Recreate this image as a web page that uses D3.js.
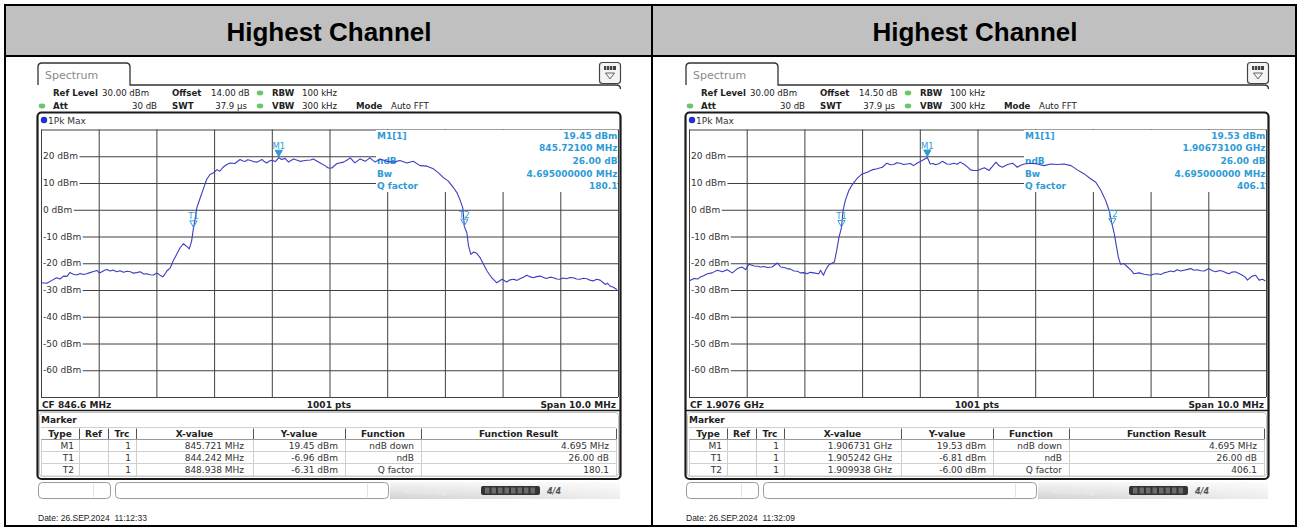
<!DOCTYPE html>
<html><head><meta charset="utf-8">
<script src="https://cdn.jsdelivr.net/npm/d3@7"></script>
<style>body{margin:0;background:#fff}svg{display:block}</style>
</head><body><div id="chart"></div>
<script>
// ---------------- data ----------------
const panelTitles = ["Highest Channel", "Highest Channel"];
const offsetLabels = ["14.00 dB", "14.50 dB"];
const cfLabels = ["CF 846.6 MHz", "CF 1.9076 GHz"];
const ptsLabel = "1001 pts";
const spanLabel = "Span 10.0 MHz";
const dateLabels = ["Date: 26.SEP.2024  11:12:33", "Date: 26.SEP.2024  11:32:09"];
const xDomainL = [841.6, 851.6];        // MHz
const xDomainR = [1902.6, 1912.6];      // MHz
const yDomain = [-70, 30];              // dBm
const yTickLevels = [20, 10, 0, -10, -20, -30, -40, -50, -60];
const yGridLevels = [30, 20, 10, 0, -10, -20, -30, -40, -50, -60, -70];

const freqL = [
 841.60,841.70,841.78,841.87,841.93,841.99,842.05,842.10,842.16,842.22,
 842.28,842.33,842.39,842.45,842.51,842.57,842.61,842.65,842.70,842.74,
 842.80,842.85,842.91,842.97,843.03,843.09,843.15,843.20,843.26,843.32,
 843.38,843.43,843.49,843.55,843.60,843.63,843.67,843.71,843.75,843.78,
 843.84,843.89,843.95,844.01,844.07,844.13,844.17,844.21,844.242,844.27,
 844.30,844.36,844.42,844.47,844.53,844.59,844.65,844.70,844.76,844.82,
 844.88,844.96,845.05,845.10,845.14,845.18,845.22,845.28,845.34,845.39,
 845.43,845.47,845.51,845.56,845.60,845.66,845.721,845.77,845.83,845.89,
 845.93,845.98,846.04,846.09,846.15,846.21,846.27,846.32,846.38,846.44,
 846.52,846.58,846.64,846.73,846.84,846.90,846.96,847.04,847.13,847.22,
 847.30,847.39,847.48,847.59,847.71,847.82,847.94,848.05,848.17,848.29,
 848.40,848.49,848.58,848.66,848.75,848.81,848.86,848.91,848.938,848.98,
 849.01,849.05,849.10,849.15,849.21,849.27,849.33,849.41,849.50,849.59,
 849.67,849.73,849.79,849.85,849.90,849.96,850.02,850.08,850.13,850.19,
 850.25,850.31,850.36,850.42,850.48,850.54,850.59,850.65,850.71,850.77,
 850.83,850.88,850.94,851.00,851.06,851.11,851.17,851.23,851.29,851.34,
 851.38,851.42,851.46,851.52,851.58
];
const levelL = [
 -27.3,-27.5,-26.5,-25.4,-25.9,-24.8,-24.9,-23.5,-24.1,-24.4,
 -23.8,-24.2,-23.9,-23.5,-23.1,-22.7,-23.6,-23.3,-22.6,-22.3,
 -22.9,-22.5,-23.2,-22.8,-23.4,-23.0,-23.2,-23.7,-23.5,-23.2,
 -24.0,-23.9,-24.3,-24.4,-23.7,-23.9,-24.6,-25.1,-24.0,-22.9,
 -21.7,-19.2,-16.7,-14.2,-12.7,-13.8,-14.6,-11.7,-6.96,-3.6,
 0.7,4.5,8.2,11.3,13.2,13.8,15.0,14.4,16.0,16.9,
 17.5,17.3,18.8,18.2,18.1,18.7,18.5,18.0,17.8,18.3,
 18.8,18.0,17.5,18.2,18.5,18.0,19.45,18.8,19.2,17.8,
 18.4,19.0,18.5,18.1,18.3,18.5,18.6,19.0,18.2,17.5,
 16.5,15.6,15.6,17.3,17.8,18.5,19.4,17.5,19.0,18.1,
 19.4,17.8,19.0,18.1,17.8,18.4,17.5,18.1,16.5,16.3,
 15.3,13.8,11.9,10.7,8.2,6.3,3.8,0.7,-6.31,-8.6,
 -13.6,-16.7,-15.8,-16.3,-17.9,-20.4,-22.9,-25.4,-27.3,-26.0,
 -27.0,-26.2,-26.0,-26.4,-25.8,-25.2,-24.5,-25.1,-25.4,-25.0,
 -24.8,-25.3,-25.7,-25.2,-25.4,-25.9,-26.0,-25.5,-25.8,-25.3,
 -25.4,-25.9,-26.0,-25.6,-25.8,-26.3,-26.6,-26.0,-26.3,-27.2,
 -27.9,-27.5,-28.5,-29.0,-29.8
];
const freqR = [
 1902.60,1902.69,1902.75,1902.80,1902.86,1902.92,1903.00,1903.09,1903.18,1903.26,
 1903.35,1903.44,1903.52,1903.58,1903.64,1903.73,1903.79,1903.84,1903.90,1903.96,
 1904.04,1904.13,1904.19,1904.25,1904.30,1904.36,1904.42,1904.48,1904.53,1904.59,
 1904.65,1904.70,1904.76,1904.85,1904.88,1904.93,1904.97,1905.02,1905.08,1905.12,
 1905.16,1905.20,1905.242,1905.27,1905.31,1905.37,1905.43,1905.51,1905.60,1905.69,
 1905.77,1905.86,1905.95,1906.03,1906.09,1906.15,1906.20,1906.26,1906.32,1906.38,
 1906.44,1906.49,1906.55,1906.64,1906.731,1906.78,1906.83,1906.87,1906.93,1906.99,
 1907.07,1907.13,1907.19,1907.25,1907.30,1907.36,1907.42,1907.48,1907.53,1907.60,
 1907.66,1907.72,1907.80,1907.86,1907.92,1907.97,1908.03,1908.12,1908.21,1908.29,
 1908.35,1908.41,1908.52,1908.64,1908.75,1908.87,1908.99,1909.10,1909.22,1909.33,
 1909.45,1909.56,1909.65,1909.74,1909.82,1909.88,1909.938,1909.97,1910.01,1910.04,
 1910.08,1910.14,1910.20,1910.26,1910.31,1910.40,1910.49,1910.60,1910.66,1910.72,
 1910.78,1910.83,1910.89,1910.95,1911.00,1911.06,1911.12,1911.18,1911.24,1911.30,
 1911.35,1911.41,1911.47,1911.53,1911.61,1911.67,1911.73,1911.79,1911.84,1911.90,
 1911.96,1912.01,1912.07,1912.13,1912.19,1912.24,1912.28,1912.32,1912.36,1912.42,
 1912.48,1912.54,1912.59
];
const levelR = [
 -26.6,-25.7,-25.9,-25.1,-24.6,-23.9,-23.6,-22.6,-23.2,-22.4,
 -23.6,-22.0,-21.4,-22.4,-20.4,-21.0,-21.1,-21.4,-21.2,-21.6,
 -21.4,-19.9,-21.4,-21.6,-22.0,-22.2,-22.9,-23.0,-23.6,-23.5,
 -23.9,-23.4,-23.6,-23.9,-22.6,-24.5,-22.4,-20.7,-19.9,-19.5,
 -15.2,-10.2,-6.81,-0.2,3.5,7.2,9.4,11.6,13.4,14.0,
 14.9,15.3,15.9,17.4,16.8,16.9,17.6,17.4,16.9,17.1,
 17.3,16.5,17.4,18.4,19.53,17.1,17.3,16.8,17.2,18.1,
 17.1,17.0,17.4,17.0,17.8,17.1,16.1,14.9,14.7,14.7,
 15.2,15.7,14.7,16.2,17.8,16.5,15.9,16.9,17.4,15.9,
 16.6,17.1,17.4,17.1,16.5,17.1,16.9,17.1,16.5,14.9,
 13.4,11.6,10.3,7.2,3.5,-0.2,-6.00,-8.9,-13.9,-17.6,
 -20.4,-20.1,-21.4,-22.6,-23.9,-23.6,-24.1,-24.5,-24.0,-23.9,
 -24.2,-23.6,-23.3,-22.9,-23.2,-22.4,-22.9,-22.6,-22.3,-22.0,
 -22.6,-22.4,-22.8,-22.9,-22.0,-22.8,-23.2,-22.7,-22.9,-23.5,
 -23.9,-23.3,-23.2,-23.8,-24.5,-25.2,-26.3,-25.5,-24.8,-24.5,
 -26.3,-26.0,-26.6
];

const markerTypes = ["M1", "T1", "T2"];
const markerTrc = ["1", "1", "1"];
const markerFreqL = [845.721, 844.242, 848.938];
const markerLevelL = [19.45, -6.96, -6.31];
const markerFreqR = [1906.731, 1905.242, 1909.938];
const markerLevelR = [19.53, -6.81, -6.00];
const markerXTextL = ["845.721 MHz", "844.242 MHz", "848.938 MHz"];
const markerYTextL = ["19.45 dBm", "-6.96 dBm", "-6.31 dBm"];
const markerXTextR = ["1.906731 GHz", "1.905242 GHz", "1.909938 GHz"];
const markerYTextR = ["19.53 dBm", "-6.81 dBm", "-6.00 dBm"];
const functionNames = ["ndB down", "ndB", "Q factor"];
const functionResultsL = ["4.695 MHz", "26.00 dB", "180.1"];
const functionResultsR = ["4.695 MHz", "26.00 dB", "406.1"];
const tableHeaders = ["Type", "Ref", "Trc", "X-value", "Y-value", "Function", "Function Result"];
const infoLabels = ["M1[1]", "", "ndB", "Bw", "Q factor"];
const infoValuesL = ["19.45 dBm", "845.72100 MHz", "26.00 dB", "4.695000000 MHz", "180.1"];
const infoValuesR = ["19.53 dBm", "1.90673100 GHz", "26.00 dB", "4.695000000 MHz", "406.1"];

// ---------------- drawing ----------------
const INST = "'DejaVu Sans', Verdana, sans-serif";
const ARIAL = "'Liberation Sans', Arial, sans-serif";
const MK = "#2f9bd6";
const TRACE = "#3d3dc2";
const GRID = "#404040";

const svg = d3.select("#chart").append("svg").attr("width", 1301).attr("height", 530);
svg.append("rect").attr("width", 1301).attr("height", 530).attr("fill", "#fff");

const defs = svg.append("defs");
const gb = defs.append("linearGradient").attr("id", "barGrad").attr("x1", 0).attr("x2", 0).attr("y1", 0).attr("y2", 1);
gb.append("stop").attr("offset", "0%").attr("stop-color", "#f6f6f6");
gb.append("stop").attr("offset", "100%").attr("stop-color", "#d2d2d2");
const gh = defs.append("linearGradient").attr("id", "fadeGrad").attr("x1", 0).attr("x2", 1).attr("y1", 0).attr("y2", 0);
gh.append("stop").attr("offset", "0%").attr("stop-color", "#fff").attr("stop-opacity", 0);
gh.append("stop").attr("offset", "100%").attr("stop-color", "#fff").attr("stop-opacity", 0.6);

// outer table
svg.append("rect").attr("x", 5).attr("y", 5).attr("width", 1291).attr("height", 51).attr("fill", "#c0c0c0");
svg.append("rect").attr("x", 5).attr("y", 5).attr("width", 1291).attr("height", 521)
  .attr("fill", "none").attr("stroke", "#000").attr("stroke-width", 2);
svg.append("line").attr("x1", 5).attr("x2", 1296).attr("y1", 56).attr("y2", 56).attr("stroke", "#000").attr("stroke-width", 2);
svg.append("line").attr("x1", 652).attr("x2", 652).attr("y1", 5).attr("y2", 526).attr("stroke", "#000").attr("stroke-width", 2);

const colCenters = [329, 975];
panelTitles.forEach((t, i) => {
  svg.append("text").attr("x", colCenters[i]).attr("y", 41).attr("text-anchor", "middle")
    .attr("font-family", ARIAL).attr("font-weight", "bold").attr("font-size", 26).attr("fill", "#000").text(t);
});

function txt(g, x, y, s, o = {}) {
  return g.append("text").attr("x", x).attr("y", y)
    .attr("font-family", o.family || INST).attr("font-size", o.size || 9)
    .attr("font-weight", o.bold ? "bold" : "normal")
    .attr("text-anchor", o.anchor || "start").attr("fill", o.fill || "#222")
    .style("white-space", "pre").text(s);
}

function drawPanel(p) {
  const g = svg.append("g").attr("transform", `translate(${p.ox},0)`);
  const x = d3.scaleLinear().domain(p.xDomain).range([41, 618]);
  const y = d3.scaleLinear().domain(yDomain).range([397, 129.5]);

  // tab
  g.append("path").attr("d", "M38,85 L38,67 Q38,63 42,63 L126,63 Q130,63 130,67 L130,85 L616,85 Q620.5,85 620.5,89")
    .attr("fill", "none").attr("stroke", "#333").attr("stroke-width", 1.3);
  txt(g, 45, 79, "Spectrum", {size: 11, fill: "#8a8a8a"});
  // icon
  g.append("rect").attr("x", 599.5).attr("y", 62.5).attr("width", 21).attr("height", 21).attr("rx", 3)
    .attr("fill", "#f4f4f4").attr("stroke", "#444").attr("stroke-width", 1.2);
  g.append("rect").attr("x", 604).attr("y", 66).attr("width", 12).attr("height", 4).attr("fill", "#444");
  [606.5, 609.5, 612.5].forEach(v => g.append("line").attr("x1", v).attr("x2", v).attr("y1", 66).attr("y2", 70).attr("stroke", "#ddd").attr("stroke-width", 0.8));
  g.append("path").attr("d", "M605.5,73 L614.5,73 L610,79 Z").attr("fill", "none").attr("stroke", "#555").attr("stroke-width", 0.9);

  // settings rows
  const S = 8.6;
  const dot = (cx, cy) => g.append("ellipse").attr("cx", cx).attr("cy", cy).attr("rx", 3.3).attr("ry", 2.4).attr("fill", "#6cc46c");
  txt(g, 53, 96, "Ref Level", {bold: true, size: S});
  txt(g, 102, 96, "30.00 dBm", {size: S});
  txt(g, 172, 96, "Offset", {bold: true, size: S});
  txt(g, 211, 96, p.offset, {size: S});
  dot(260, 93);
  txt(g, 272, 96, "RBW", {bold: true, size: S});
  txt(g, 302, 96, "100 kHz", {size: S});
  dot(42, 106);
  txt(g, 53, 109, "Att", {bold: true, size: S});
  txt(g, 157, 109, "30 dB", {anchor: "end", size: S});
  txt(g, 172, 109, "SWT", {bold: true, size: S});
  txt(g, 247, 109, "37.9 µs", {anchor: "end", size: S});
  dot(260, 106);
  txt(g, 272, 109, "VBW", {bold: true, size: S});
  txt(g, 302, 109, "300 kHz", {size: S});
  txt(g, 356, 109, "Mode", {bold: true, size: S});
  txt(g, 391, 109, "Auto FFT", {size: S});

  // window frame
  g.append("rect").attr("x", 37.5).attr("y", 112.5).attr("width", 583).attr("height", 366.5).attr("rx", 4)
    .attr("fill", "#fff").attr("stroke", "#1a1a1a").attr("stroke-width", 2.2);
  g.append("circle").attr("cx", 44).attr("cy", 120).attr("r", 3.2).attr("fill", "#1f2fd0");
  txt(g, 48, 123.5, "1Pk Max", {size: 9, fill: "#333"});

  // grid via axes
  const yAxis = d3.axisLeft(y).tickValues(yGridLevels).tickSize(-577).tickFormat("");
  const gy = g.append("g").attr("transform", "translate(41,0)").call(yAxis);
  gy.select(".domain").remove();
  gy.selectAll("line").attr("stroke", GRID).attr("stroke-width", 1);
  const xTicks = d3.range(11).map(i => p.xDomain[0] + i);
  const xAxis = d3.axisBottom(x).tickValues(xTicks).tickSize(-(397 - 129.5)).tickFormat("");
  const gx = g.append("g").attr("transform", "translate(0,397)").call(xAxis);
  gx.select(".domain").remove();
  gx.selectAll("line").attr("stroke", GRID).attr("stroke-width", 1);

  // y labels on white patches
  yTickLevels.forEach(v => {
    const bg = g.append("rect").attr("fill", "#fff");
    const t = txt(g, 43, y(v) + 3.2, `${v} dBm`, {fill: "#333"});
    const b = t.node().getBBox();
    bg.attr("x", 42).attr("y", y(v) - 2.5).attr("width", b.x + b.width - 42 + 1.5).attr("height", 5);
  });

  // info box
  g.append("rect").attr("x", 376).attr("y", 130).attr("width", 241.5).attr("height", 62).attr("fill", "#fff");
  const infoY = [138.5, 151, 164, 176.5, 189];
  infoLabels.forEach((s, i) => { if (s) txt(g, 377, infoY[i], s, {bold: true, fill: MK}); });
  p.info.forEach((s, i) => txt(g, 617.5, infoY[i], s, {bold: true, fill: MK, anchor: "end"}));

  // trace
  const clipId = "clip" + p.ox;
  defs.append("clipPath").attr("id", clipId).append("rect").attr("x", 41 + p.ox).attr("y", 129).attr("width", 577).attr("height", 268);
  const pts = p.freq.map((f, i) => [f, p.level[i]]);
  svg.append("g").attr("clip-path", `url(#${clipId})`).append("path")
    .attr("transform", `translate(${p.ox},0)`)
    .attr("d", d3.line().x(d => x(d[0])).y(d => y(d[1]))(pts))
    .attr("fill", "none").attr("stroke", TRACE).attr("stroke-width", 1.1).attr("stroke-linejoin", "round");

  // markers
  const gm = svg.append("g").attr("transform", `translate(${p.ox},0)`);
  markerTypes.forEach((m, i) => {
    const mx = x(p.mFreq[i]), my = y(p.mLevel[i]);
    gm.append("path").attr("d", `M${mx},${my - 1} L${mx - 3.6},${my - 7.5} L${mx + 3.6},${my - 7.5} Z`)
      .attr("fill", i === 0 ? MK : "none").attr("stroke", MK).attr("stroke-width", 1);
    txt(gm, mx, my - 9, m, {anchor: "middle", fill: MK, size: 8.5});
  });

  // CF row
  g.append("line").attr("x1", 37.5).attr("x2", 620.5).attr("y1", 410.5).attr("y2", 410.5).attr("stroke", "#1a1a1a").attr("stroke-width", 1.6);
  txt(g, 42, 407.5, p.cf, {bold: true});
  txt(g, 329, 407.5, ptsLabel, {bold: true, anchor: "middle"});
  txt(g, 616, 407.5, spanLabel, {bold: true, anchor: "end"});

  // marker box
  g.append("rect").attr("x", 39.5).attr("y", 412.5).attr("width", 579).attr("height", 64).attr("rx", 3)
    .attr("fill", "#fff").attr("stroke", "#c4c4c4").attr("stroke-width", 1);
  txt(g, 41, 422.5, "Marker", {bold: true});
  const seps = [41, 79, 108, 136, 253, 345, 421, 616];
  const tTop = 427.5, tHead = 439.5, rowLines = [451.5, 463.5, 476];
  g.append("line").attr("x1", 41).attr("x2", 616).attr("y1", tTop).attr("y2", tTop).attr("stroke", "#d0d0d0");
  g.append("line").attr("x1", 41).attr("x2", 616).attr("y1", tHead).attr("y2", tHead).attr("stroke", "#999");
  rowLines.forEach(v => g.append("line").attr("x1", 41).attr("x2", 616).attr("y1", v).attr("y2", v).attr("stroke", "#cfcfcf"));
  seps.forEach((s, i) => {
    if (i > 0) g.append("line").attr("x1", s + 0.5).attr("x2", s + 0.5).attr("y1", tTop + 1).attr("y2", tHead).attr("stroke", "#555");
    g.append("line").attr("x1", s + 0.5).attr("x2", s + 0.5).attr("y1", tHead).attr("y2", 476).attr("stroke", "#cfcfcf");
  });
  tableHeaders.forEach((h, i) => txt(g, (seps[i] + seps[i + 1]) / 2, 437, h, {bold: true, anchor: "middle"}));
  const rowY = [448.5, 460.5, 473];
  const pads = [5, 5, 5, 9, 7, 7, 7];
  markerTypes.forEach((m, r) => {
    const cells = [m, "", markerTrc[r], p.xText[r], p.yText[r], functionNames[r], p.results[r]];
    cells.forEach((c, i) => { if (c) txt(g, seps[i + 1] - pads[i], rowY[r], c, {anchor: "end", fill: "#333"}); });
  });

  // bottom status bar
  g.append("rect").attr("x", 38.5).attr("y", 482.5).attr("width", 72).attr("height", 16).attr("rx", 4)
    .attr("fill", "#fff").attr("stroke", "#9a9a9a");
  g.append("line").attr("x1", 93.5).attr("x2", 93.5).attr("y1", 484).attr("y2", 497).attr("stroke", "#e2e2e2");
  g.append("rect").attr("x", 115.5).attr("y", 482.5).attr("width", 273).attr("height", 16).attr("rx", 4)
    .attr("fill", "#fff").attr("stroke", "#9a9a9a");
  g.append("line").attr("x1", 367.5).attr("x2", 367.5).attr("y1", 484).attr("y2", 497).attr("stroke", "#e2e2e2");
  g.append("rect").attr("x", 390).attr("y", 482).attr("width", 230).attr("height", 17).attr("fill", "url(#barGrad)");
  g.append("rect").attr("x", 390).attr("y", 482).attr("width", 230).attr("height", 17).attr("fill", "url(#fadeGrad)");
  txt(g, 404, 494, "Measuring...", {fill: "#ececec", size: 8});
  g.append("rect").attr("x", 481).attr("y", 486).attr("width", 59).attr("height", 9).attr("rx", 2).attr("fill", "#333");
  d3.range(8).forEach(k => g.append("rect").attr("x", 485 + k * 6.5).attr("y", 487.5).attr("width", 4.5).attr("height", 6).attr("fill", "#6a6a6a"));
  txt(g, 547, 494, "4/4", {bold: true, fill: "#555", size: 8}).attr("font-style", "italic");

  // date
  txt(g, 38, 521, p.date, {family: ARIAL, size: 8.5, fill: "#222"});
}

drawPanel({ox: 0, xDomain: xDomainL, freq: freqL, level: levelL, offset: offsetLabels[0], cf: cfLabels[0],
  date: dateLabels[0], mFreq: markerFreqL, mLevel: markerLevelL, xText: markerXTextL, yText: markerYTextL,
  results: functionResultsL, info: infoValuesL});
drawPanel({ox: 648, xDomain: xDomainR, freq: freqR, level: levelR, offset: offsetLabels[1], cf: cfLabels[1],
  date: dateLabels[1], mFreq: markerFreqR, mLevel: markerLevelR, xText: markerXTextR, yText: markerYTextR,
  results: functionResultsR, info: infoValuesR});
</script>
</body></html>
